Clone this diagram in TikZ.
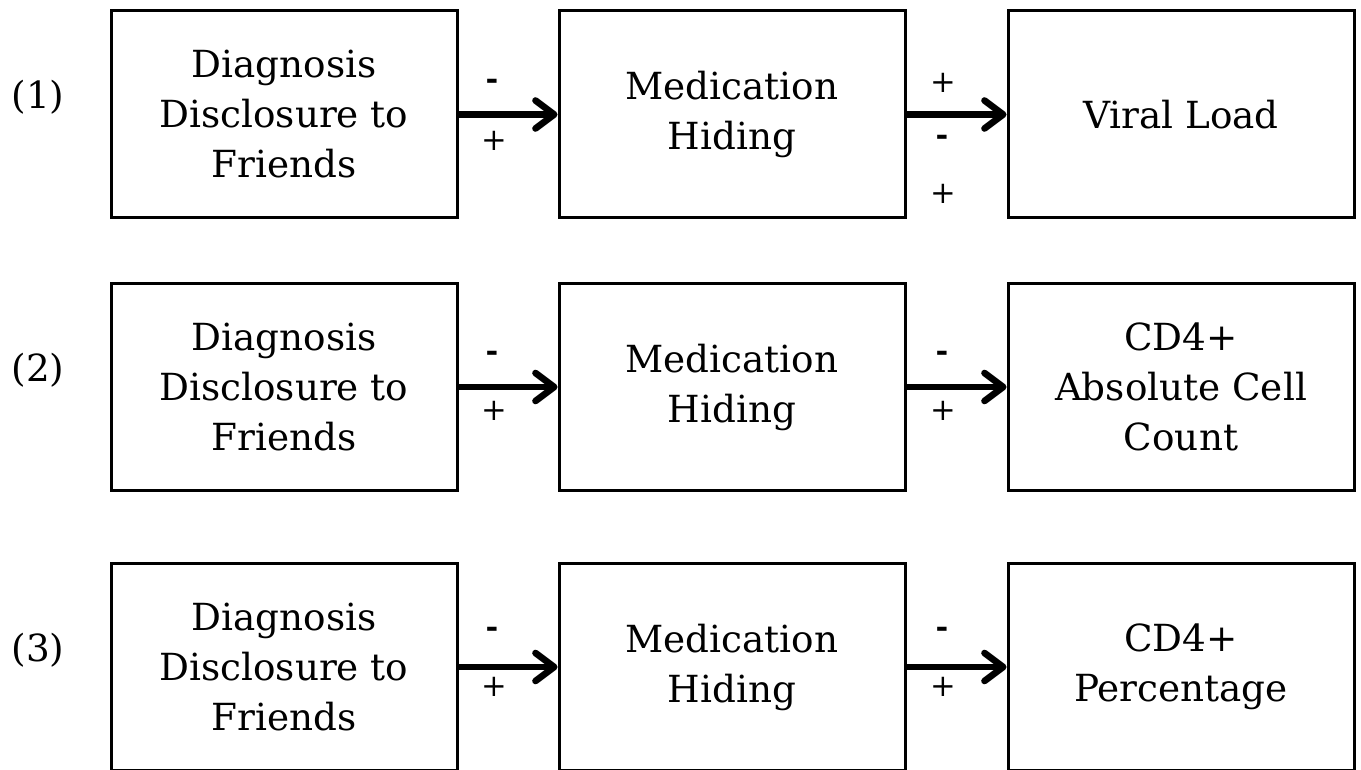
\documentclass[tikz,border=0pt]{standalone}
\usepackage{fontspec}
\setmainfont{DejaVu Serif}
\usetikzlibrary{arrows.meta}
\newcommand{\boxfont}{\fontsize{28}{37.5}\selectfont}
\newcommand{\signfont}{\fontsize{23}{24}\selectfont}
\newcommand{\minus}{{\bfseries -}}
\begin{document}
\begin{tikzpicture}[x=0.75pt,y=-0.75pt,line cap=butt,line join=miter,
	box/.style={draw,line width=2.25pt,minimum width=259.5pt,minimum height=155.25pt,
		inner sep=0pt,align=center,font=\boxfont},
	link/.style={-{Straight Barb[length=14pt,width=21pt,line cap=round,line join=round]},line width=5pt},
	sign/.style={font=\signfont,inner sep=0pt}]
				\useasboundingbox (0,0) rectangle (1361,770);
				\clip (0,0) rectangle (1361,770);
				\foreach \r/\y/\outc in {1/114.5/{Viral Load},2/387/{CD4+\\Absolute Cell\\Count},3/667/{CD4+\\Percentage}}{
					\node[font=\boxfont] (n\r) at (38,\y-17) {(\r)};
					\node[box] (d\r) at (284,\y) {Diagnosis\\Disclosure to\\Friends};
					\node[box] (m\r) at (732,\y) {Medication\\Hiding};
					\node[box] (o\r) at (1181,\y) {\outc};
					\draw[link] (d\r.east |- 0,\y) -- (m\r.west |- 0,\y);
					\draw[link] (m\r.east |- 0,\y) -- (o\r.west |- 0,\y);
				}
				% signs, row 1
				\node[sign] (s1a) at (492,84) {\minus};
				\node[sign] (s1b) at (494,141) {+};
				\node[sign] (s1c) at (943,83) {+};
				\node[sign] (s1d) at (942,140) {\minus};
				\node[sign] (s1e) at (943,194) {+};
				% signs, rows 2 and 3
				\foreach \r/\y in {2/387,3/663}{
					\node[sign] (s\r a) at (492,\y-31) {\minus};
					\node[sign] (s\r b) at (494,\y+24) {+};
					\node[sign] (s\r c) at (942,\y-31) {\minus};
					\node[sign] (s\r d) at (943,\y+24) {+};
				}
			\end{tikzpicture}
\end{document}
